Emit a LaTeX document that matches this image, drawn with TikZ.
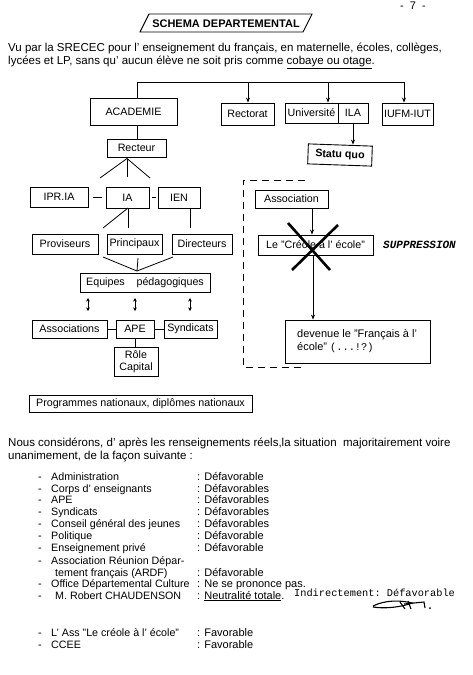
\documentclass[tikz,border=0pt]{standalone}
\usepackage{fontspec}
\setmainfont{Liberation Sans}
\setmonofont{Liberation Mono}
\usetikzlibrary{arrows.meta}
\begin{document}
\begin{tikzpicture}[x=1pt,y=-1pt,
  box/.style={draw, line width=0.9pt, inner sep=0pt, font=\fontsize{10.7}{12}\selectfont},
  arr/.style={-{Stealth[length=5pt,width=4pt]}, line width=0.8pt},
  dbl/.style={{Stealth[length=3.5pt,width=3.5pt]}-{Stealth[length=3.5pt,width=3.5pt]}, line width=0.9pt},
  ln/.style={line width=0.8pt},
  txt/.style={anchor=base west, inner sep=0pt, font=\fontsize{11}{12}\selectfont},
  ltxt/.style={anchor=base west, inner sep=0pt, font=\fontsize{10.7}{12}\selectfont},
  ptxt/.style={anchor=base west, inner sep=0pt, font=\fontsize{11.5}{13}\selectfont},
  mono/.style={anchor=base west, inner sep=0pt, font=\fontsize{10.3}{12}\ttfamily},
]
\useasboundingbox[fill=white] (0,0) rectangle (472,675);

% page number and title
\node[txt] (pg) at (400,9) {-\ \ 7\ \ -};
\draw[line width=0.9pt] (140,32) -- (149,14) -- (312,14) -- (303,32) -- cycle;
\node[font=\fontsize{11}{12}\selectfont\bfseries, inner sep=0pt] (title) at (226,23.5) {SCHEMA DEPARTEMENTAL};

\node[ptxt] (p1) at (8,51) {Vu par la SRECEC pour l' enseignement du français, en maternelle, écoles, collèges,};
\node[ptxt] (p2) at (8,64.5) {lycées et LP, sans qu' aucun élève ne soit pris comme \underline{cobaye ou otage}.};

% top boxes
\node[box, minimum width=87pt, minimum height=27pt] (acad) at (133.5,111.5) {ACADEMIE};
\node[box, minimum width=53pt, minimum height=22pt] (rectorat) at (247.5,114) {Rectorat};
\node[box, minimum width=53pt, minimum height=20pt] (univ) at (311.5,113) {Université};
\node[box, minimum width=30pt, minimum height=20pt] (ila) at (353,113) {ILA};
\node[box, minimum width=51pt, minimum height=22pt] (iufm) at (407.5,114) {IUFM-IUT};
\node[box, font=\fontsize{10.7}{12}\selectfont\bfseries, minimum width=64pt, minimum height=20pt, rotate=-2] (statu) at (340,155) {Statu quo};

\coordinate (b0) at (137,82);
\coordinate (b1) at (248,82);
\coordinate (b2) at (328,82);
\coordinate (b3) at (404,82);
\draw[ln] (b0) -- (b3);
\draw[ln] (b0) -- (b0 |- acad.north);
\draw[arr] (b1) -- (b1 |- rectorat.north);
\draw[arr] (b2) -- (b2 |- univ.north);
\draw[arr] (b3) -- (b3 |- iufm.north);
\draw[arr] (ila.south) -- (ila.south |- statu.north);

% left hierarchy
\node[box, minimum width=59pt, minimum height=18pt] (rect) at (136.5,148) {Recteur};
\draw[ln] (b0 |- acad.south) -- (b0 |- rect.north);

\node[box, minimum width=58pt, minimum height=20pt] (ipr) at (59,197) {IPR.IA};
\node[box, minimum width=43pt, minimum height=21pt] (ia) at (127.5,197.5) {IA};
\node[box, minimum width=42pt, minimum height=21pt] (ien) at (179,197.5) {IEN};

\coordinate (rf) at (127,158.5);
\coordinate (rf1) at (100,178);
\coordinate (rf2) at (127,177);
\coordinate (rf3) at (150,178);
\draw[ln] (rf) -- (rf1);
\draw[ln] (rf) -- (rf2);
\draw[ln] (rf) -- (rf3);
\draw[line width=1pt, shorten <=5pt, shorten >=4pt] (ipr.east) -- (ia.west |- ipr.east);
\draw[line width=1.2pt, shorten <=3pt, shorten >=2pt] (ia.east) -- (ien.west);

\node[box, minimum width=66pt, minimum height=20pt] (prov) at (65,244) {Proviseurs};
\node[box, minimum width=55pt, minimum height=20pt] (princ) at (134.5,244) {Principaux};
\node[box, minimum width=60pt, minimum height=20pt] (direc) at (202,244) {Directeurs};

\coordinate (ia1) at (128,208);
\coordinate (ia2) at (103,228);
\coordinate (ia3) at (128,228);
\coordinate (ie1) at (190,208);
\coordinate (ie2) at (190,228);
\draw[ln] (ia1) -- (ia2);
\draw[ln] (ia1) -- (ia3);
\draw[ln] (ie1) -- (ie2);

\node[box, minimum width=130pt, minimum height=19pt] (equip) at (145,282.5) {Equipes\hspace{1.1em}pédagogiques};
\coordinate (eq) at (137,271);
\coordinate (pv) at (103,257);
\coordinate (pc) at (138,258);
\coordinate (dr) at (173,257);
\draw[ln] (pv) -- (eq);
\draw[ln] (pc) -- (eq);
\draw[ln] (dr) -- (eq);

\coordinate (d1a) at (88,298); \coordinate (d1b) at (88,311);
\coordinate (d2a) at (135,298); \coordinate (d2b) at (135,311);
\coordinate (d3a) at (190,298); \coordinate (d3b) at (190,311);
\draw[dbl] (d1a) -- (d1b);
\draw[dbl] (d2a) -- (d2b);
\draw[dbl] (d3a) -- (d3b);

\node[box, minimum width=75pt, minimum height=18pt] (assocs) at (69.5,329) {Associations};
\node[box, minimum width=38pt, minimum height=18pt] (ape) at (135,329) {APE};
\node[box, minimum width=53pt, minimum height=18pt] (synd) at (190.5,329) {Syndicats};
\node[box, minimum width=44pt, minimum height=29pt, align=center, font=\fontsize{10.7}{11.5}\selectfont] (role) at (136,361.5) {Rôle\\Capital};
\draw[ln] (assocs.east) -- (ape.west);
\draw[ln] (ape.east) -- (synd.west);
\draw[ln] (ape.south) -- (ape.south |- role.north);

\node[box, minimum width=223pt, minimum height=17pt] (prog) at (140.5,403.5) {Programmes nationaux, diplômes nationaux};
\draw[line width=1.6pt] (prog.south west) -- (prog.south east);

% dashed frame
\coordinate (df1) at (305,180);
\coordinate (df2) at (243,180);
\coordinate (df3) at (243,367);
\coordinate (df4) at (303,367);
\draw[line width=1pt, dash pattern=on 7pt off 5pt] (df1) -- (df2) -- (df3) -- (df4);

\node[box, minimum width=73pt, minimum height=18pt] (assoc) at (291.5,199) {Association};
\node[box, minimum width=115pt, minimum height=20pt] (creole) at (315.5,245) {Le "Créole à l' école"};
\node[box, minimum width=145pt, minimum height=43pt] (dev) at (357.5,341.5) {};
\node[txt] (dv1) at (297,337) {devenue le "Français à l'};
\node[txt] (dv2) at (297,350) {école" {\fontsize{10.3}{12}\ttfamily (...!?)}};

\coordinate (ax) at (312,0);
\coordinate (cx) at (313,0);
\draw[arr] (assoc.south -| ax) -- (creole.north -| ax);
\draw[arr] (creole.south -| cx) -- (dev.north -| cx);

\coordinate (x1) at (288,223); \coordinate (x2) at (330,270);
\coordinate (x3) at (338,225); \coordinate (x4) at (292,270);
\draw[line width=2.6pt] (x1) -- (x2);
\draw[line width=2.6pt] (x3) -- (x4);

\node[anchor=base west, inner sep=0pt, font=\fontsize{11}{12}\ttfamily\bfseries\itshape] (supp) at (383,248) {SUPPRESSION};

% lower text
\node[ptxt] (n1) at (8,446) {Nous considérons, d' après les renseignements réels,la situation\ \ majoritairement voire};
\node[ptxt] (n2) at (8,459) {unanimement, de la façon suivante :};

\foreach \y/\a/\b in {480/Administration/Défavorable, 492/Corps d' enseignants/Défavorables, 503/APE/Défavorables, 515/Syndicats/Défavorables, 527/Conseil général des jeunes/Défavorables, 539/Politique/Défavorable, 551/Enseignement privé/Défavorable}{
  \node[txt] at (38,\y) {-};
  \node[ltxt] at (51,\y) {\a};
  \node[txt] at (197,\y) {: \b};
}
\node[txt] (l8) at (38,564) {-};
\node[ltxt] (l8a) at (51,564) {Association Réunion Dépar-};
\node[ltxt] (l8b) at (55,576) {tement français (ARDF)};
\node[txt] (l8c) at (197,576) {: Défavorable};
\node[txt] (l9) at (38,587) {-};
\node[ltxt] (l9a) at (51,587) {Office Départemental Culture};
\node[txt] (l9b) at (197,587) {: Ne se prononce pas.};
\node[txt] (l10) at (38,599) {-};
\node[ltxt] (l10a) at (55,599) {M. Robert CHAUDENSON};
\node[txt] (l10b) at (197,599) {: \underline{Neutralité totale}.};
\node[mono] (ind) at (294,596) {Indirectement: Défavorable};

\draw[line width=1.1pt] (373,606) .. controls (385,600) and (400,600) .. (412,603) .. controls (402,607) and (385,609) .. (373,607);
\draw[line width=1.1pt] (400,602) -- (405,609) (408,601) -- (411,609) (404,604) -- (424,602) -- (425,608);
\fill (430,608) circle (1pt);

\node[txt] (l11) at (38,636) {-};
\node[ltxt] (l11a) at (51,636) {L' Ass "Le créole à l' école"};
\node[txt] (l11b) at (197,636) {: Favorable};
\node[txt] (l12) at (38,648) {-};
\node[ltxt] (l12a) at (51,648) {CCEE};
\node[txt] (l12b) at (197,648) {: Favorable};
\end{tikzpicture}
\end{document}
